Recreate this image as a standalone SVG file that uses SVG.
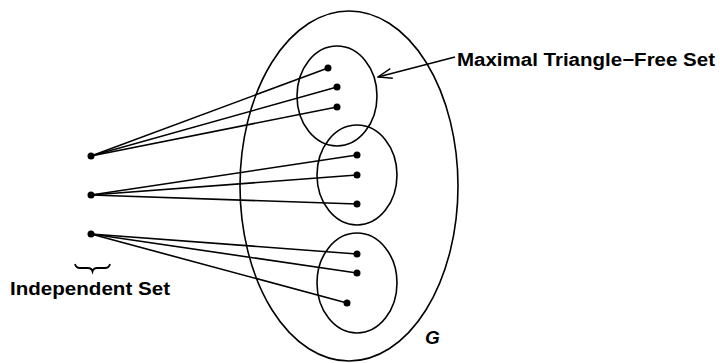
<svg xmlns="http://www.w3.org/2000/svg" width="720" height="363" viewBox="0 0 720 363">
<defs>
<style>
.set{fill:none;stroke:#000;stroke-width:1.6}
.edge{stroke:#000;stroke-width:1.6;fill:none}
.dot{fill:#000}
.lbl{font-family:"Liberation Sans",Arial,Helvetica,sans-serif;font-weight:bold;fill:#000}
</style>
<marker id="open" markerWidth="16" markerHeight="12" refX="15" refY="6" orient="auto" markerUnits="userSpaceOnUse">
<path d="M1,1 L15,6 L1,11" fill="none" stroke="#000" stroke-width="1.4"/>
</marker>
</defs>
<rect width="720" height="363" fill="#fff"/>
<g id="G">
<ellipse class="set" cx="349" cy="186" rx="109" ry="175"/>
<text class="lbl" x="425" y="344" font-size="19" font-style="italic">G</text>
</g>
<g id="mtfs1">
<ellipse class="set" cx="337" cy="96" rx="40" ry="50"/>
</g>
<g id="mtfs2">
<ellipse class="set" cx="357" cy="175" rx="40" ry="50"/>
</g>
<g id="mtfs3">
<ellipse class="set" cx="357" cy="283" rx="40" ry="50"/>
</g>
<g id="connectors">
<line class="edge" x1="91" y1="156" x2="328" y2="68"/>
<line class="edge" x1="91" y1="156" x2="337" y2="87"/>
<line class="edge" x1="91" y1="156" x2="337" y2="107"/>
<line class="edge" x1="91" y1="195" x2="357" y2="155"/>
<line class="edge" x1="91" y1="195" x2="357" y2="175"/>
<line class="edge" x1="91" y1="195" x2="357" y2="204"/>
<line class="edge" x1="91" y1="234" x2="357" y2="254"/>
<line class="edge" x1="91" y1="234" x2="357" y2="273"/>
<line class="edge" x1="91" y1="234" x2="347" y2="303"/>
<line class="edge" x1="455" y1="57" x2="378" y2="77" marker-end="url(#open)"/>
</g>
<g id="dots-right">
<circle class="dot" cx="328" cy="68" r="3.5"/>
<circle class="dot" cx="337" cy="87" r="3.5"/>
<circle class="dot" cx="337" cy="107" r="3.5"/>
<circle class="dot" cx="357" cy="155" r="3.5"/>
<circle class="dot" cx="357" cy="175" r="3.5"/>
<circle class="dot" cx="357" cy="204" r="3.5"/>
<circle class="dot" cx="357" cy="254" r="3.5"/>
<circle class="dot" cx="357" cy="273" r="3.5"/>
<circle class="dot" cx="347" cy="303" r="3.5"/>
</g>
<g id="independent-set">
<circle class="dot" cx="91" cy="156" r="3.5"/>
<circle class="dot" cx="91" cy="195" r="3.5"/>
<circle class="dot" cx="91" cy="234" r="3.5"/>
<path d="M75,264 Q76,268 80,268 L88,268 Q91.5,268 92.5,271.5 Q93.5,268 97,268 L105,268 Q109,268 110,264" fill="none" stroke="#000" stroke-width="1.8"/>
<text class="lbl" x="10" y="295" font-size="18" textLength="160" lengthAdjust="spacingAndGlyphs">Independent Set</text>
</g>
<g id="label-mtfs">
<text class="lbl" x="457" y="66" font-size="18" textLength="258" lengthAdjust="spacingAndGlyphs">Maximal Triangle−Free Set</text>
</g>
</svg>
